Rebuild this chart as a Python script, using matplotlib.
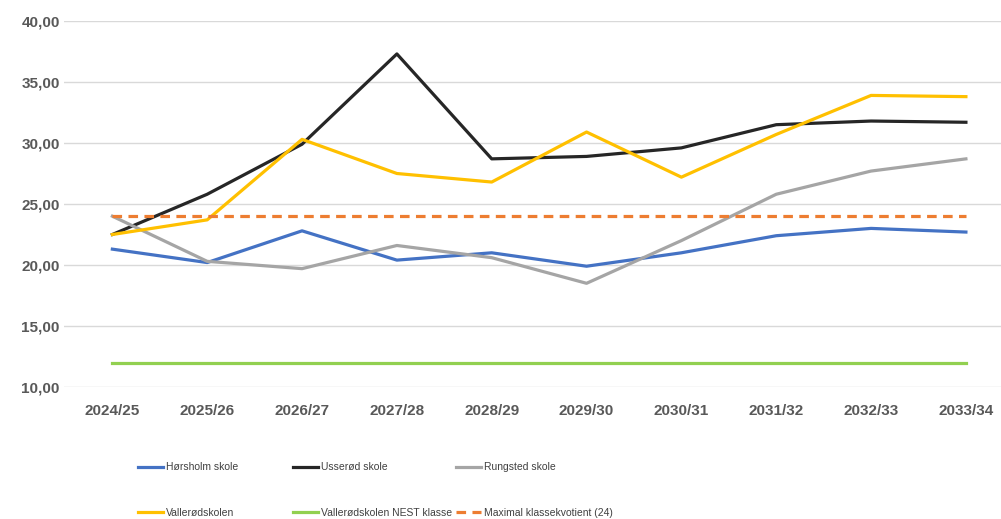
import matplotlib.pyplot as plt
from matplotlib.ticker import FuncFormatter

plt.rcParams['font.family'] = ['Liberation Sans', 'DejaVu Sans']

years = ["2024/25", "2025/26", "2026/27", "2027/28", "2028/29",
         "2029/30", "2030/31", "2031/32", "2032/33", "2033/34"]

horsholm = [21.3, 20.2, 22.8, 20.4, 21.0, 19.9, 21.0, 22.4, 23.0, 22.7]
usserod = [22.5, 25.8, 29.9, 37.3, 28.7, 28.9, 29.6, 31.5, 31.8, 31.7]
rungsted = [24.0, 20.3, 19.7, 21.6, 20.6, 18.5, 22.0, 25.8, 27.7, 28.7]
vallerod = [22.5, 23.7, 30.3, 27.5, 26.8, 30.9, 27.2, 30.7, 33.9, 33.8]
nest = [12.0] * 10
max_kvotient = [24.0] * 10

fig = plt.figure(figsize=(10.01, 5.19), dpi=100)
ax = fig.add_axes([64 / 1001, 132 / 519, 937 / 1001, 366 / 519])

x = range(len(years))
lw = 2.3
ax.plot(x, horsholm, color="#4472C4", lw=lw, label="Hørsholm skole")
ax.plot(x, usserod, color="#262626", lw=lw, label="Usserød skole")
ax.plot(x, rungsted, color="#A5A5A5", lw=lw, label="Rungsted skole")
ax.plot(x, vallerod, color="#FFC000", lw=lw, label="Vallerødskolen")
ax.plot(x, nest, color="#92D050", lw=lw, label="Vallerødskolen NEST klasse")
ax.plot(x, max_kvotient, color="#ED7D31", lw=lw, ls=(0, (3, 2)),
        label="Maximal klassekvotient (24)")

ax.set_ylim(10, 40)
ax.set_yticks(range(10, 41, 5))
ax.yaxis.set_major_formatter(FuncFormatter(lambda v, p: f"{v:.2f}".replace(".", ",")))
ax.set_xlim(-0.51, 9.37)
ax.set_xticks(list(x))
ax.set_xticklabels(years)
ax.grid(axis="y", color="#D9D9D9", lw=1)
ax.set_axisbelow(True)
for s in ax.spines.values():
    s.set_visible(False)
ax.tick_params(axis="both", length=0, colors="#595959", labelsize=11)
ax.tick_params(axis="x", pad=12)
ax.tick_params(axis="y", pad=3)
for t in ax.get_xticklabels() + ax.get_yticklabels():
    t.set_fontweight("bold")

# one small legend per column so the columns sit where the reference has them
handles, labels = ax.get_legend_handles_labels()
col_x = [138, 293, 456]
for c in range(3):
    pair = [c, c + 3]
    fig.legend([handles[i] for i in pair], [labels[i] for i in pair],
               loc="center left", bbox_to_anchor=(col_x[c] / 1001, 1 - 490 / 519),
               frameon=False, fontsize=7.5, handlelength=2.4, handletextpad=0.3,
               labelspacing=3.4, borderpad=0, borderaxespad=0,
               labelcolor="#404040")

fig.savefig("out.png", dpi=100)
